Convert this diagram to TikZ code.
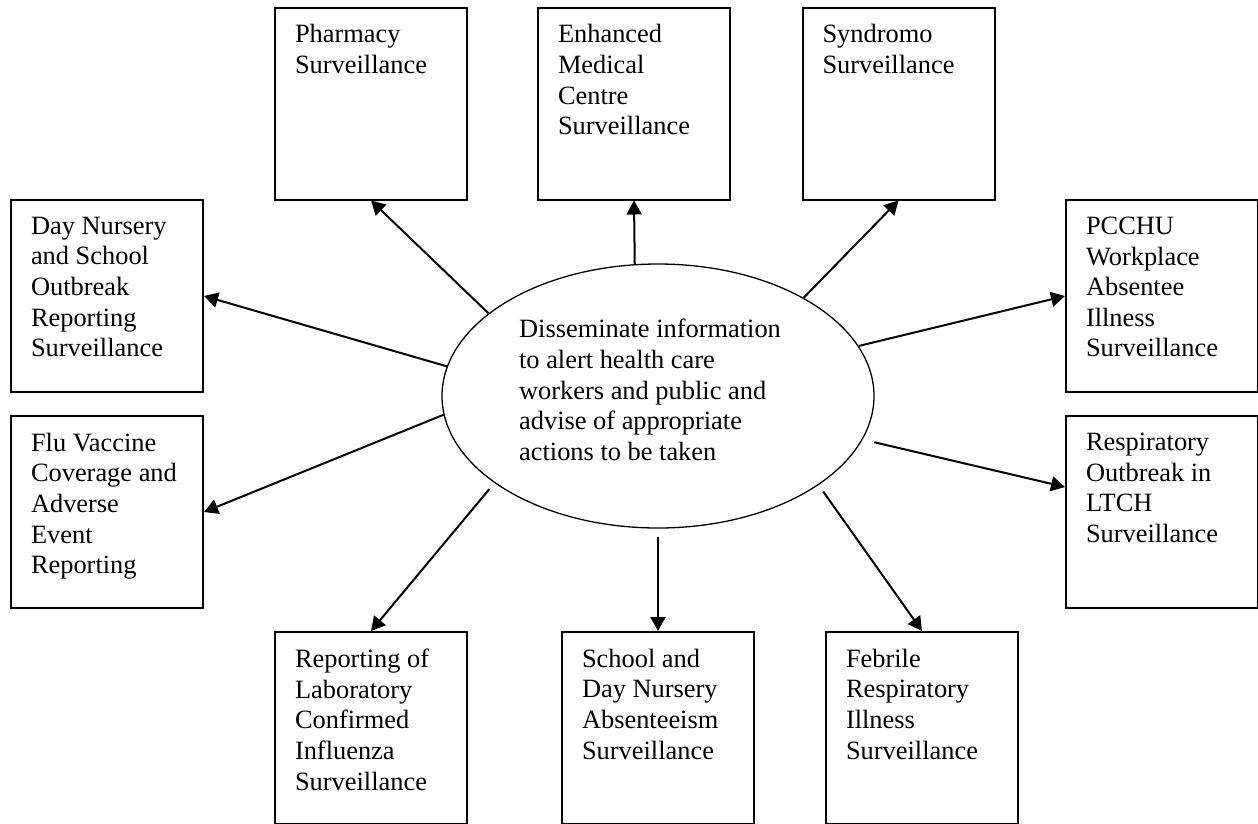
\documentclass[tikz,border=0pt]{standalone}
\usepackage{fontspec}
\setmainfont{Liberation Serif}
\usetikzlibrary{shapes.geometric, arrows.meta}

\newcommand{\boxtext}[1]{\parbox[t][158pt][t]{152pt}{\raggedright #1}}

\begin{document}
\begin{tikzpicture}[x=1pt, y=-1pt,
        font=\fontsize{26.4}{30.6}\selectfont,
        box/.style={draw, line width=2pt, inner xsep=20pt, inner ysep=17pt, minimum width=192pt, minimum height=192pt},
        arr/.style={line width=2pt, -{Triangle[length=14pt, width=15pt]}}]
            \useasboundingbox (0,0) rectangle (1258,823);

            % Nodes with manual coordinates
            \node[draw, ellipse, line width=1.3pt, minimum width=432pt, minimum height=264pt] (dis) at (658,396) {};
            \node[align=left] (distext) at (650,390) {Disseminate information\\to alert health care\\workers and public and\\advise of appropriate\\actions to be taken};

            \node[box] (pharm) at (371,103.5) {\boxtext{Pharmacy\\Surveillance}};
            \node[box] (enh) at (634,103.5) {\boxtext{Enhanced\\Medical\\Centre\\Surveillance}};
            \node[box] (synd) at (898.5,103.5) {\boxtext{Syndromo\\Surveillance}};
            \node[box] (daynurs) at (107,296) {\boxtext{Day Nursery\\and School\\Outbreak\\Reporting\\Surveillance}};
            \node[box] (flu) at (107,512) {\boxtext{Flu Vaccine\\Coverage and\\Adverse\\Event\\Reporting}};
            \node[box] (pcchu) at (1162,296) {\boxtext{PCCHU\\Workplace\\Absentee\\Illness\\Surveillance}};
            \node[box] (resp) at (1162,512) {\boxtext{Respiratory\\Outbreak in\\LTCH\\Surveillance}};
            \node[box] (lab) at (371,728) {\boxtext{Reporting of\\Laboratory\\Confirmed\\Influenza\\Surveillance}};
            \node[box] (school) at (658,728) {\boxtext{School and\\Day Nursery\\Absenteeism\\Surveillance}};
            \node[box] (febr) at (922,728) {\boxtext{Febrile\\Respiratory\\Illness\\Surveillance}};

            % Edges
            \draw[arr] (dis.154.8) -- (pharm.south);
            \draw[arr] (dis.100) -- (enh.south);
            \draw[arr] (dis.34.5) -- (synd.south);
            \draw[arr] (dis.172.6) -- (daynurs.east);
            \draw[arr] (dis.14.9) -- (pcchu.west);
            \draw[arr] (dis.185.6) -- (flu.east);
            \draw[arr, shorten <=12pt] (dis.348.5) -- ([yshift=25pt]resp.west);
            \draw[arr, shorten <=8pt] (dis.208.9) -- (lab.north);
            \draw[arr, shorten <=8pt] (dis.south) -- (school.north);
            \draw[arr, shorten <=8pt] (dis.331.3) -- (febr.north);
        \end{tikzpicture}
\end{document}
